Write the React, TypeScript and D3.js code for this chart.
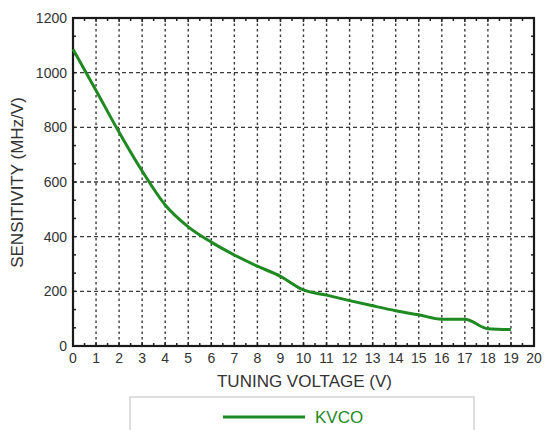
import React from "react";
import * as d3 from "d3";

const voltages = [0, 1, 2, 3, 4, 5, 6, 7, 8, 9, 10, 11, 12, 13, 14, 15, 16, 17, 18, 19];
const kvco = [1086, 935, 782, 640, 516, 436, 380, 333, 292, 255, 205, 186, 166, 147, 129, 114, 98, 98, 63, 60];
const xTicks = d3.range(0, 21);
const yTicks = [0, 200, 400, 600, 800, 1000, 1200];
const seriesName = "KVCO";
const xTitle = "TUNING VOLTAGE (V)";
const yTitle = "SENSITIVITY (MHz/V)";

export default function App() {
  const W = 548, H = 430;
  const L = 73, R = 534, T = 18, B = 346;
  const x = d3.scaleLinear().domain([0, 20]).range([L, R]);
  const y = d3.scaleLinear().domain([0, 1200]).range([B, T]);
  const line = d3.line<number>().x((_, i) => x(voltages[i])).y((d) => y(d)).curve(d3.curveMonotoneX);
  const green = "#1f8a22";
  const font = "Liberation Sans, Arial, sans-serif";
  const xMinor = d3.range(0, 20.01, 0.5);
  const yMinor = d3.range(0, 1200.01, 200 / 3);

  return (
    <svg width={W} height={H} style={{ position: "absolute", left: 0, top: 0, background: "#fff" }}>
      <rect x={0} y={0} width={W} height={H} fill="#fff" />
      {xTicks.filter((t) => t > 0 && t < 20).map((t) => (
        <line key={"vx" + t} x1={x(t)} x2={x(t)} y1={T} y2={B} stroke="#3a3a3a" strokeWidth={1.4} strokeDasharray="2.5,3" />
      ))}
      {yTicks.filter((t) => t > 0 && t < 1200).map((t) => (
        <line key={"hy" + t} x1={L} x2={R} y1={y(t)} y2={y(t)} stroke="#3a3a3a" strokeWidth={1.4} strokeDasharray="4,3" />
      ))}
      {xMinor.map((t) => (
        <g key={"mx" + t}>
          <line x1={x(t)} x2={x(t)} y1={B} y2={B - (Number.isInteger(t) ? 4 : 3)} stroke="#222" strokeWidth={1.5} />
          <line x1={x(t)} x2={x(t)} y1={T} y2={T + (Number.isInteger(t) ? 4 : 3)} stroke="#222" strokeWidth={1.5} />
        </g>
      ))}
      {yMinor.map((t, i) => (
        <g key={"my" + i}>
          <line x1={L} x2={L + 3} y1={y(t)} y2={y(t)} stroke="#222" strokeWidth={1.5} />
          <line x1={R} x2={R - 3} y1={y(t)} y2={y(t)} stroke="#222" strokeWidth={1.5} />
        </g>
      ))}
      <rect x={L} y={T} width={R - L} height={B - T} fill="none" stroke="#1a1a1a" strokeWidth={2.2} />
      <path d={line(kvco) || ""} fill="none" stroke={green} strokeWidth={3} strokeLinejoin="round" />
      {yTicks.map((t) => (
        <text key={"yl" + t} x={L - 6} y={y(t)} dy="0.36em" textAnchor="end" fontFamily={font} fontSize={14} fill="#333">{t}</text>
      ))}
      {xTicks.map((t) => (
        <text key={"xl" + t} x={x(t)} y={B + 17} textAnchor="middle" fontFamily={font} fontSize={14} fill="#333">{t}</text>
      ))}
      <text x={(L + R) / 2 + 1} y={387} textAnchor="middle" fontFamily={font} fontSize={17} fill="#333">{xTitle}</text>
      <text transform={`translate(23,${182.5}) rotate(-90)`} textAnchor="middle" fontFamily={font} fontSize={17} fill="#333">{yTitle}</text>
      <rect x={130} y={397} width={344} height={50} fill="#fff" stroke="#c8c8c8" strokeWidth={1.2} />
      <line x1={223} x2={305} y1={417} y2={417} stroke={green} strokeWidth={3} />
      <text x={315} y={423} fontFamily={font} fontSize={17} fill={green}>{seriesName}</text>
    </svg>
  );
}
